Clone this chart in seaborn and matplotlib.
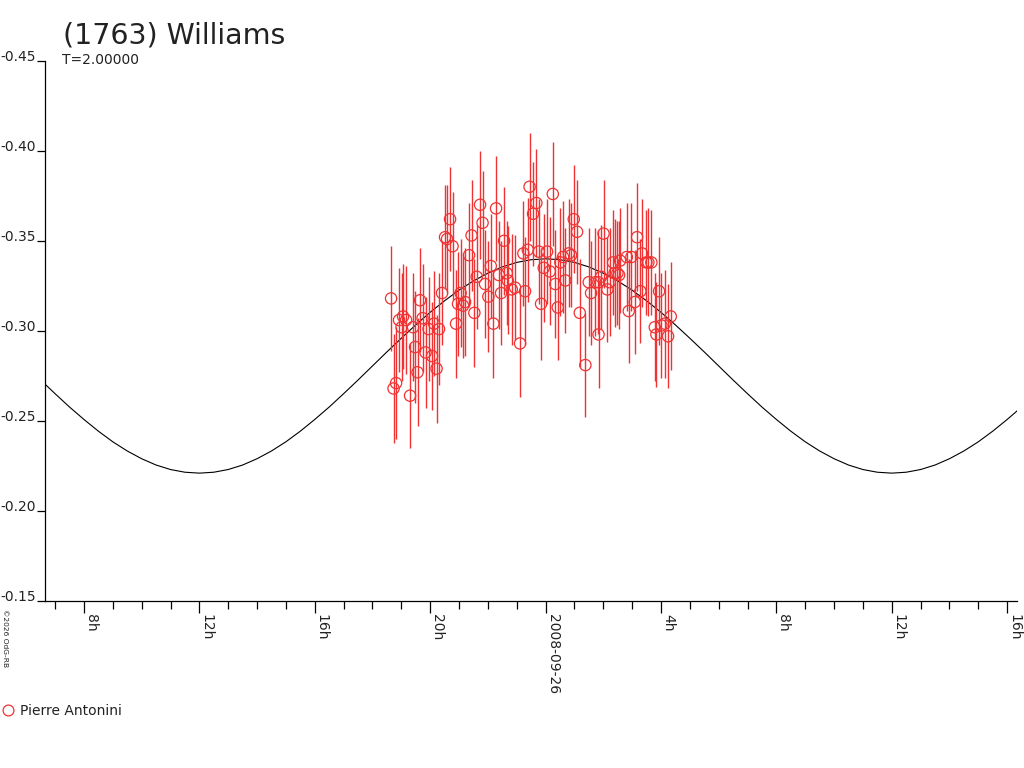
import numpy as np
import pandas as pd
import matplotlib
matplotlib.use("Agg")
import matplotlib.pyplot as plt
from matplotlib.ticker import FixedLocator, FixedFormatter
from matplotlib.lines import Line2D
import seaborn as sns

# ---------------- data ----------------
TITLE = "(1763) Williams"
SUBTITLE = "T=2.00000"
OBSERVER = "Pierre Antonini"
COPYRIGHT = "\u00a92026 OdG-RB"

# observation times (hours relative to 2008-09-26 0h UT) and magnitudes
obs_hours = [
    -5.355, -5.269, -5.182, -5.078, -4.991, -4.939, -4.835, -4.697, -4.593, -4.523,
    -4.437, -4.350, -4.263, -4.159, -4.055, -3.934, -3.865, -3.778, -3.692, -3.588,
    -3.484, -3.414, -3.310, -3.224, -3.102, -3.033, -2.946, -2.860, -2.790, -2.652,
    -2.565, -2.468, -2.385, -2.270, -2.184, -2.097, -1.983, -1.899, -1.809, -1.716,
    -1.619, -1.542, -1.438, -1.345, -1.310, -1.172, -1.057, -0.884, -0.769, -0.711,
    -0.617, -0.555, -0.433, -0.319, -0.236, -0.156, -0.062, 0.052, 0.146, 0.250,
    0.340, 0.423, 0.513, 0.607, 0.686, 0.804, 0.884, 0.977, 1.092, 1.185,
    1.380, 1.497, 1.577, 1.726, 1.830, 1.837, 1.924, 2.010, 2.142, 2.225,
    2.340, 2.392, 2.489, 2.548, 2.582, 2.815, 2.884, 2.974, 3.092, 3.172,
    3.286, 3.345, 3.494, 3.563, 3.667, 3.785, 3.841, 3.934, 4.014, 4.132,
    4.246, 4.340,
]
obs_mag = [
    -0.318, -0.268, -0.271, -0.306, -0.302, -0.308, -0.306, -0.264, -0.302, -0.291,
    -0.277, -0.317, -0.307, -0.288, -0.301, -0.286, -0.304, -0.279, -0.301, -0.321,
    -0.352, -0.351, -0.362, -0.347, -0.304, -0.315, -0.321, -0.314, -0.316, -0.342,
    -0.353, -0.310, -0.330, -0.370, -0.360, -0.326, -0.319, -0.336, -0.304, -0.368,
    -0.331, -0.321, -0.350, -0.332, -0.328, -0.323, -0.324, -0.293, -0.343, -0.322,
    -0.345, -0.380, -0.365, -0.371, -0.344, -0.315, -0.335, -0.344, -0.333, -0.376,
    -0.326, -0.313, -0.338, -0.341, -0.328, -0.343, -0.342, -0.362, -0.355, -0.310,
    -0.281, -0.327, -0.321, -0.327, -0.327, -0.298, -0.330, -0.354, -0.323, -0.327,
    -0.338, -0.332, -0.332, -0.331, -0.339, -0.341, -0.311, -0.341, -0.316, -0.352,
    -0.322, -0.343, -0.338, -0.338, -0.338, -0.302, -0.298, -0.322, -0.303, -0.304,
    -0.297, -0.308,
]
obs_err = [
    0.029, 0.030, 0.031, 0.029, 0.030, 0.029, 0.030, 0.029, 0.030, 0.031,
    0.030, 0.029, 0.030, 0.031, 0.029, 0.030, 0.029, 0.030, 0.031, 0.029,
    0.029, 0.030, 0.029, 0.030, 0.030, 0.029, 0.030, 0.029, 0.030, 0.029,
    0.031, 0.030, 0.029, 0.030, 0.029, 0.030, 0.031, 0.029, 0.030, 0.029,
    0.030, 0.029, 0.030, 0.029, 0.030, 0.031, 0.029, 0.030, 0.029, 0.030,
    0.029, 0.030, 0.029, 0.030, 0.029, 0.031, 0.030, 0.029, 0.030, 0.029,
    0.030, 0.029, 0.030, 0.031, 0.029, 0.030, 0.029, 0.030, 0.029, 0.030,
    0.029, 0.030, 0.029, 0.030, 0.029, 0.030, 0.029, 0.030, 0.029, 0.030,
    0.029, 0.030, 0.029, 0.030, 0.029, 0.030, 0.029, 0.030, 0.029, 0.030,
    0.029, 0.030, 0.029, 0.030, 0.029, 0.030, 0.029, 0.030, 0.029, 0.030,
    0.029, 0.030,
]

# model curve every half hour, -17.5 h .. +16.5 h
curve_hours = [
    -17.5, -17.0, -16.5, -16.0, -15.5, -15.0, -14.5, -14.0, -13.5, -13.0,
    -12.5, -12.0, -11.5, -11.0, -10.5, -10.0, -9.5, -9.0, -8.5, -8.0,
    -7.5, -7.0, -6.5, -6.0, -5.5, -5.0, -4.5, -4.0, -3.5, -3.0,
    -2.5, -2.0, -1.5, -1.0, -0.5, 0.0, 0.5, 1.0, 1.5, 2.0,
    2.5, 3.0, 3.5, 4.0, 4.5, 5.0, 5.5, 6.0, 6.5, 7.0,
    7.5, 8.0, 8.5, 9.0, 9.5, 10.0, 10.5, 11.0, 11.5, 12.0,
    12.5, 13.0, 13.5, 14.0, 14.5, 15.0, 15.5, 16.0, 16.5,
]
curve_mag = [
    -0.2727, -0.2651, -0.2577, -0.2508, -0.2443, -0.2384, -0.2333, -0.2290, -0.2255, -0.2230,
    -0.2215, -0.2210, -0.2215, -0.2230, -0.2255, -0.2290, -0.2333, -0.2384, -0.2443, -0.2508,
    -0.2577, -0.2651, -0.2727, -0.2805, -0.2883, -0.2959, -0.3033, -0.3103, -0.3167, -0.3226,
    -0.3277, -0.3320, -0.3355, -0.3380, -0.3395, -0.3400, -0.3395, -0.3380, -0.3355, -0.3320,
    -0.3277, -0.3226, -0.3167, -0.3103, -0.3033, -0.2959, -0.2883, -0.2805, -0.2727, -0.2651,
    -0.2577, -0.2508, -0.2443, -0.2384, -0.2333, -0.2290, -0.2255, -0.2230, -0.2215, -0.2210,
    -0.2215, -0.2230, -0.2255, -0.2290, -0.2333, -0.2384, -0.2443, -0.2508, -0.2577,
]

major_hours = [-16, -12, -8, -4, 0, 4, 8, 12, 16]
major_labels = ["8h", "12h", "16h", "20h", "2008-09-26", "4h", "8h", "12h", "16h"]
minor_hours = list(range(-17, 17))
y_ticks = [-0.45, -0.40, -0.35, -0.30, -0.25, -0.20, -0.15]
y_labels = ["-0.45", "-0.40", "-0.35", "-0.30", "-0.25", "-0.20", "-0.15"]

# ---------------- figure ----------------
sns.set_style("white")
plt.rcParams["font.family"] = ["DejaVu Sans"]
plt.rcParams["axes.unicode_minus"] = False

RED = "#f03232"
W, H = 1024, 768
fig = plt.figure(figsize=(W / 100, H / 100), dpi=100)
fig.patch.set_facecolor("white")

left, right, top, bottom = 45, 1016.7, 60.7, 601
ax = fig.add_axes([left / W, 1 - bottom / H, (right - left) / W, (bottom - top) / H])
ax.set_facecolor("white")

obs = pd.DataFrame({"t": obs_hours, "mag": obs_mag, "err": obs_err})
curve = pd.DataFrame({"t": curve_hours, "mag": curve_mag})

sns.lineplot(data=curve, x="t", y="mag", ax=ax, color="black", linewidth=0.8,
             sort=True, estimator=None, zorder=2)
ax.vlines(obs["t"], obs["mag"] - obs["err"], obs["mag"] + obs["err"],
          colors=RED, linewidth=1.0, zorder=3)
sns.scatterplot(data=obs, x="t", y="mag", ax=ax, marker="o", s=66,
                facecolor="none", edgecolor=RED, linewidth=0.9, zorder=4)

ax.set_xlim(-17.35, 16.33)
ax.set_ylim(-0.15, -0.45)
ax.set_xlabel("")
ax.set_ylabel("")

for s in ["top", "right"]:
    ax.spines[s].set_visible(False)
for s in ["left", "bottom"]:
    ax.spines[s].set_color("black")
    ax.spines[s].set_linewidth(0.9)

ax.xaxis.set_major_locator(FixedLocator(major_hours))
ax.xaxis.set_major_formatter(FixedFormatter(major_labels))
ax.xaxis.set_minor_locator(FixedLocator(minor_hours))
ax.yaxis.set_major_locator(FixedLocator(y_ticks))
ax.yaxis.set_major_formatter(FixedFormatter(y_labels))

ax.tick_params(axis="x", which="major", direction="out", length=8.6, width=0.9,
               color="black", bottom=True, pad=0.5, labelsize=10, labelcolor="#222222")
ax.tick_params(axis="x", which="minor", direction="out", length=5.8, width=0.9,
               color="black", bottom=True)
ax.tick_params(axis="y", which="major", direction="out", length=5.8, width=0.9,
               color="black", left=True, pad=0.6, labelsize=10, labelcolor="#222222")

for lbl in ax.get_xticklabels():
    lbl.set_rotation(270)
    lbl.set_rotation_mode("anchor")
    lbl.set_ha("left")
    lbl.set_va("bottom")
for lbl in ax.get_yticklabels():
    lbl.set_va("baseline")

# texts
fig.text(63 / W, 1 - 43.3 / H, TITLE, fontsize=20.5, color="#222222",
         ha="left", va="baseline")
fig.text(62.5 / W, 1 - 64.5 / H, SUBTITLE, fontsize=10, color="#222222",
         ha="left", va="baseline")
fig.text(1.5 / W, 1 - 609 / H, COPYRIGHT, fontsize=5.4, color="#222222",
         rotation=270, ha="left", va="top")

handle = Line2D([], [], marker="o", linestyle="none", markersize=7.8,
                markerfacecolor="none", markeredgecolor=RED, markeredgewidth=0.9)
fig.legend([handle], [OBSERVER], loc="center left",
           bbox_to_anchor=(-0.004, 1 - 711 / H), frameon=False, fontsize=10,
           handlelength=1.0, handletextpad=0.3, borderaxespad=0.0,
           labelcolor="#222222")

fig.savefig("out.png", dpi=100, facecolor="white")
